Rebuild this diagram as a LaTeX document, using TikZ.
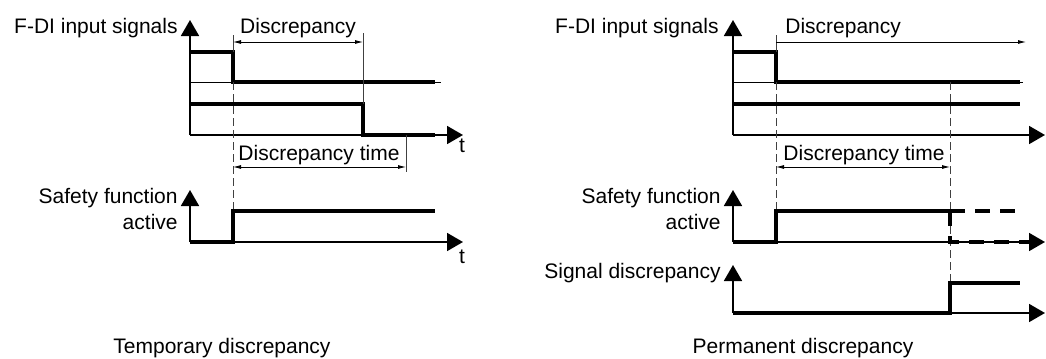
\documentclass[tikz,border=0pt]{standalone}
\usepackage{fontspec}
\setmainfont{Liberation Sans}
\usetikzlibrary{arrows.meta,positioning}

\begin{document}
\begin{tikzpicture}[
  x=0.5pt, y=-0.5pt,
  font=\fontsize{10.5}{13}\selectfont,
  axis/.style={line width=0.9pt, -{Triangle[length=8pt,width=9pt]}},
  sig/.style={line width=1.6pt},
  sigdash/.style={line width=1.6pt, dash pattern=on 7.5pt off 5pt},
  base/.style={line width=0.4pt},
  guide/.style={line width=0.4pt, black!75},
  markline/.style={line width=0.4pt, black!75, dash pattern=on 4pt off 2pt},
  dim/.style={line width=0.4pt, {Latex[length=4pt,width=2pt]}-{Latex[length=4pt,width=2pt]}},
  dimr/.style={line width=0.4pt, -{Latex[length=4pt,width=2pt]}},
  lbl/.style={inner sep=0pt, anchor=base},
  ylbl/.style={inner sep=0pt, align=right, anchor=base east}]
\useasboundingbox (0,0) rectangle (1046,359);

% temporary discrepancy
\coordinate (L0) at (190,135);
\coordinate (LS) at (190,242);
\draw[base] (190,82) -- (441,82);
\draw[axis] (L0) -- (190,20);
\draw[axis] (L0) -- (463,135);
\draw[sig] (190,52) -- (233,52) -- (233,82) -- (435,82);
\draw[sig] (190,104) -- (363,104) -- (363,135) -- (435,135);
\draw[guide] (233,35) -- (233,52);
\draw[guide] (363,33) -- (363,104);
\draw[guide] (406,135) -- (406,172);
\draw[markline] (233,82) -- (233,211);
\draw[dim] (233,42) -- (363,42);
\draw[dim] (233,167) -- (406,167);
\node[lbl] (ldisc) at (298,33) {Discrepancy};
\node[lbl] (ldtime) at (319,160) {Discrepancy time};
\node[ylbl] (lfdi) at (178,33) {F-DI input signals};
\node[lbl] (lt1) at (462,152) {t};
\draw[axis] (LS) -- (190,190);
\draw[axis] (LS) -- (463,242);
\draw[sig] (190,242) -- (233,242) -- (233,211) -- (435,211);
\node[ylbl] (lsafe) at (178,229) {Safety function\\active};
\node[lbl] (lt2) at (462,263) {t};
\node[lbl] (ltitle) at (222,353) {Temporary discrepancy};

% permanent discrepancy
\coordinate (R0) at (733,135);
\coordinate (RS) at (733,242);
\coordinate (RD) at (733,313);
\draw[base] (733,82) -- (1023,82);
\draw[axis] (R0) -- (733,20);
\draw[axis] (R0) -- (1045,135);
\draw[sig] (733,52) -- (776,52) -- (776,82) -- (1020,82);
\draw[sig] (733,104) -- (1020,104);
\draw[guide] (776,35) -- (776,52);
\draw[markline] (776,82) -- (776,211);
\draw[markline] (950,82) -- (950,283);
\draw[dimr] (776,42) -- (1026,42);
\draw[dim] (776,167) -- (950,167);
\node[lbl, anchor=base west] (rdisc) at (785,33) {Discrepancy};
\node[lbl] (rdtime) at (864,160) {Discrepancy time};
\node[ylbl] (rfdi) at (719,33) {F-DI input signals};
\draw[axis] (RS) -- (733,190);
\draw[axis] (RS) -- (1045,242);
\draw[sig] (733,242) -- (776,242) -- (776,211) -- (950,211);
\draw[sigdash] (950,211) -- (1020,211);
\draw[sigdash] (950,211) -- (950,242) -- (1030,242);
\node[ylbl] (rsafe) at (721,229) {Safety function\\active};
\draw[axis] (RD) -- (733,265);
\draw[axis] (RD) -- (1045,313);
\draw[sig] (733,313) -- (950,313) -- (950,283) -- (1020,283);
\node[ylbl] (rsdisc) at (721,278) {Signal discrepancy};
\node[lbl] (rtitle) at (803,353) {Permanent discrepancy};
\end{tikzpicture}
\end{document}
